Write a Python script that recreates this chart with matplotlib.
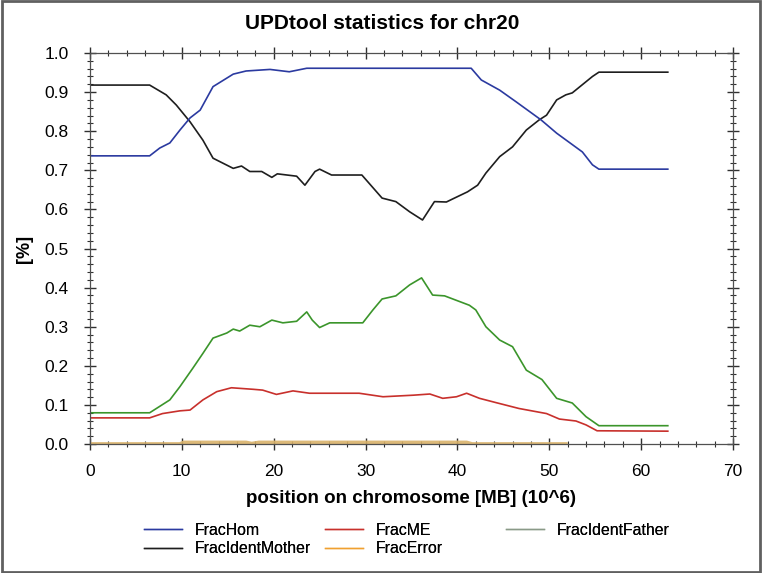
"""UPDtool statistics for chr20, redrawn with matplotlib."""

import matplotlib.pyplot as plt
from matplotlib.patches import Rectangle
from matplotlib.ticker import MultipleLocator, FormatStrFormatter

plt.rcParams["font.family"] = ["Liberation Sans", "DejaVu Sans"]

# positions in MB (10^6) and fractions
hom_x = [0, 6.5, 7.6, 8.7, 9.8, 10.9, 12.0, 13.4, 15.6, 17.0, 19.6, 21.7, 23.6,
         41.5, 42.6, 44.6, 46.4, 49.1, 50.8, 53.6, 54.7, 55.4, 62.9]
hom_y = [0.737, 0.737, 0.757, 0.770, 0.803, 0.834, 0.854, 0.914, 0.946, 0.954, 0.958, 0.952, 0.961,
         0.961, 0.931, 0.905, 0.875, 0.829, 0.795, 0.747, 0.714, 0.703, 0.703]

mother_x = [0, 6.5, 8.3, 9.4, 10.9, 12.3, 13.4, 15.6, 16.5, 17.4, 18.7, 19.8, 20.4, 22.5,
            23.4, 24.5, 25.0, 26.3, 29.6, 31.8, 33.3, 34.8, 36.2, 37.5, 38.8, 39.5, 41.1,
            42.2, 43.1, 44.6, 46.0, 47.5, 48.9, 49.7, 50.8, 51.8, 52.5, 54.7, 55.4, 62.9]
mother_y = [0.918, 0.918, 0.893, 0.867, 0.824, 0.777, 0.731, 0.705, 0.711, 0.697, 0.697, 0.682,
            0.691, 0.685, 0.662, 0.697, 0.703, 0.688, 0.688, 0.629, 0.620, 0.594, 0.573, 0.620,
            0.619, 0.627, 0.645, 0.662, 0.693, 0.735, 0.760, 0.803, 0.829, 0.841, 0.880, 0.893,
            0.898, 0.940, 0.951, 0.951]

me_x = [0, 6.5, 7.9, 9.8, 10.9, 12.3, 13.8, 15.4, 17.8, 18.8, 20.3, 22.1, 23.9, 29.3, 31.9,
        35.2, 37.0, 38.4, 39.9, 41.0, 42.4, 44.2, 46.7, 49.7, 51.1, 52.9, 54.0, 55.2, 62.9]
me_y = [0.067, 0.067, 0.078, 0.085, 0.087, 0.113, 0.134, 0.144, 0.140, 0.138, 0.127, 0.136,
        0.130, 0.130, 0.121, 0.125, 0.128, 0.117, 0.121, 0.130, 0.117, 0.106, 0.091, 0.078,
        0.064, 0.059, 0.049, 0.034, 0.033]

father_x = [0, 6.5, 8.7, 9.8, 11.2, 12.3, 13.4, 14.9, 15.6, 16.3, 17.4, 18.5, 19.8, 21.0, 22.5,
            23.6, 24.2, 25.0, 26.1, 29.7, 30.8, 31.8, 33.3, 34.8, 36.1, 37.3, 38.6, 41.3, 42.0,
            43.1, 44.6, 46.0, 47.5, 49.2, 50.8, 52.5, 54.0, 55.4, 62.9]
father_y = [0.080, 0.080, 0.113, 0.147, 0.194, 0.232, 0.271, 0.284, 0.294, 0.289, 0.304, 0.300,
            0.317, 0.310, 0.314, 0.338, 0.317, 0.298, 0.310, 0.310, 0.343, 0.371, 0.379, 0.407,
            0.425, 0.381, 0.379, 0.355, 0.343, 0.300, 0.266, 0.249, 0.189, 0.165, 0.117, 0.105,
            0.070, 0.047, 0.047]

error_x = [0, 9.8, 10.2, 17.0, 17.6, 18.4, 41.0, 41.6, 51.8]
error_y = [0.0, 0.0, 0.004, 0.004, 0.001, 0.004, 0.004, 0.0, 0.0]

COLORS = {
    "FracHom": "#2b3aa0",
    "FracIdentMother": "#1e1e1e",
    "FracME": "#c8302c",
    "FracError": "#f0a030",
    "FracIdentFather": "#3b952b",
}

# legend columns as in the original (fixed column pitch)
LEGEND_COLUMNS = [["FracHom", "FracIdentMother"], ["FracME", "FracError"], ["FracIdentFather"]]


def main() -> None:
    fig = plt.figure(figsize=(7.62, 5.73), dpi=100)
    fig.patches.append(Rectangle((0.002, 0.002), 0.996, 0.996, transform=fig.transFigure,
                                 fill=False, edgecolor="#606060", linewidth=2))
    ax = fig.add_axes([0.118, 0.225, 0.844, 0.6825])

    ax.plot(error_x, error_y, color="#d9b26a", lw=2.8, alpha=0.9)
    ax.plot(me_x, me_y, color=COLORS["FracME"], lw=1.2)
    ax.plot(father_x, father_y, color=COLORS["FracIdentFather"], lw=1.2)
    ax.plot(mother_x, mother_y, color=COLORS["FracIdentMother"], lw=1.2)
    ax.plot(hom_x, hom_y, color=COLORS["FracHom"], lw=1.2)

    ax.set_xlim(0, 70)
    ax.set_ylim(0, 1.0)
    ax.xaxis.set_major_locator(MultipleLocator(10))
    ax.xaxis.set_minor_locator(MultipleLocator(2))
    ax.yaxis.set_major_locator(MultipleLocator(0.1))
    ax.yaxis.set_minor_locator(MultipleLocator(0.02))
    ax.yaxis.set_major_formatter(FormatStrFormatter("%.1f"))
    ax.tick_params(which="both", direction="inout", top=True, right=True,
                   labelsize=12.5, color="#303030")
    ax.tick_params(axis="x", pad=10)
    ax.tick_params(axis="y", pad=11)
    ax.tick_params(which="major", length=9, width=1.0)
    ax.tick_params(which="minor", length=5, width=0.8)
    for side in ax.spines.values():
        side.set_color("#505050")
        side.set_linewidth(0.9)

    # title is centred on the whole picture, not on the plot area
    ax.set_title("UPDtool statistics for chr20", fontsize=15, fontweight="bold", pad=17, x=0.455)
    ax.set_xlabel("position on chromosome [MB] (10^6)", fontsize=13.5, fontweight="bold", labelpad=8)
    ax.set_ylabel("[%]", fontsize=13, fontweight="bold", labelpad=8)

    for col, names in enumerate(LEGEND_COLUMNS):
        handles = []
        for name in names:
            color = "#8a9a88" if name == "FracIdentFather" else COLORS[name]
            handle, = ax.plot([], [], color=color, lw=1.0)
            handles.append(handle)
        leg = fig.legend(handles, names, loc="upper left",
                         bbox_to_anchor=(0.189 + col * 0.2375, 0.088), frameon=False,
                         fontsize=11.4, handlelength=2.4, handletextpad=0.8,
                         labelspacing=0.22, borderpad=0, borderaxespad=0)
        fig.add_artist(leg)

    fig.savefig("out.png", dpi=100)


if __name__ == "__main__":
    main()
